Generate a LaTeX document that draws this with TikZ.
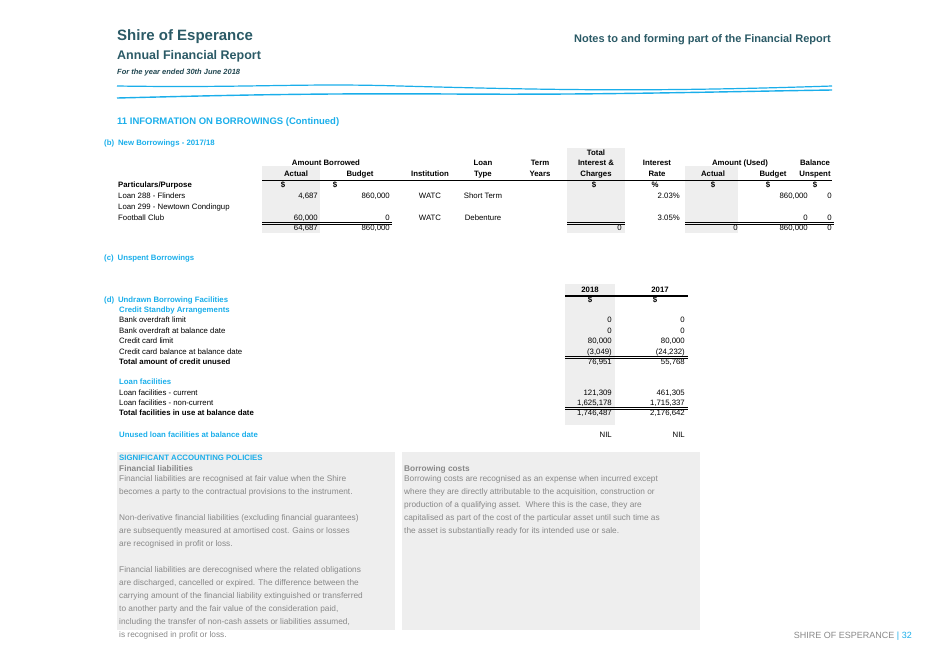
\documentclass[tikz,border=0pt]{standalone}
\usepackage{fontspec}
\setmainfont{Liberation Sans}
\definecolor{hdteal}{HTML}{2B5A66}
\definecolor{cy}{HTML}{1AAEEA}
\definecolor{shadecol}{HTML}{EEEEEE}
\definecolor{gt}{HTML}{888888}
\begin{document}
\begin{tikzpicture}[x=1pt,y=-1pt,
  t/.style={inner sep=0,anchor=mid west,font=\fontsize{7.8}{9}\selectfont},
  h/.style={t,anchor=mid,font=\fontsize{7.8}{9}\selectfont\bfseries},
  n/.style={t,anchor=mid east},
  c/.style={t,anchor=mid},
  b/.style={t,font=\fontsize{7.8}{9}\selectfont\bfseries},
  bl/.style={b,text=cy},
  g/.style={t,text=gt,font=\fontsize{8.3}{13}\selectfont,align=left,anchor=north west}]
\useasboundingbox (0,0) rectangle (929,657);
% header
\node[t,anchor=mid west,text=hdteal,font=\fontsize{15}{16}\selectfont\bfseries] (shire) at (117,38) {Shire of Esperance};
\node[t,text=hdteal,font=\fontsize{12.5}{14}\selectfont\bfseries] (afr) at (117,57) {Annual Financial Report};
\node[t,font=\fontsize{7.5}{9}\selectfont\bfseries\itshape,text=hdteal!80!black] (year) at (117,72) {For the year ended 30th June 2018};
\node[t,anchor=mid east,text=hdteal,font=\fontsize{11}{12}\selectfont\bfseries] (notes) at (831,40) {Notes to and forming part of the Financial Report};
\draw[cy,line width=1.2pt] (117,86) .. controls (250,88) and (300,83) .. (400,86) .. controls (550,90) and (650,92) .. (832,86);
\draw[cy,line width=1.4pt] (117,98) .. controls (200,96) and (300,93) .. (450,94) .. controls (600,95) and (700,92) .. (832,90);
\node[b,text=cy,font=\fontsize{9.5}{11}\selectfont\bfseries] (title) at (117,122) {11 INFORMATION ON BORROWINGS (Continued)};
% (b) table
\fill[shadecol] (262,166) rectangle (320,233);
\fill[shadecol] (567,148) rectangle (625,233);
\fill[shadecol] (685,166) rectangle (738,233);
\node[bl] (bt) at (104,143) {(b)\enspace New Borrowings - 2017/18};
\node[h] at (596,153) {Total};
\node[h] at (326,163) {Amount Borrowed};
\node[h] at (483,163) {Loan};
\node[h] at (540,163) {Term};
\node[h] at (596,163) {Interest \&};
\node[h] at (657,163) {Interest};
\node[h] at (740,163) {Amount (Used)};
\node[h] at (815,163) {Balance};
\node[h] at (296,174) {Actual};
\node[h] at (360,174) {Budget};
\node[h] at (430,174) {Institution};
\node[h] at (483,174) {Type};
\node[h] at (540,174) {Years};
\node[h] at (596,174) {Charges};
\node[h] at (657,174) {Rate};
\node[h] at (713,174) {Actual};
\node[h] at (773,174) {Budget};
\node[h] at (815,174) {Unspent};
\draw[line width=1.3pt] (262,180.5) -- (832,180.5);
\node[b] at (118,185) {Particulars/Purpose};
\foreach \x in {283,335,594,713,768,815} \node[h] at (\x,185) {\$};
\node[h] at (655,185) {\%};
\node[t] at (118,196) {Loan 288 - Flinders};
\node[n] at (318,196) {4,687};
\node[n] at (390,196) {860,000};
\node[c] at (430,196) {WATC};
\node[c] at (483,196) {Short Term};
\node[n] at (680,196) {2.03\%};
\node[n] at (808,196) {860,000};
\node[n] at (832,196) {0};
\node[t] at (118,207) {Loan 299 - Newtown Condingup};
\node[t] at (118,218) {Football Club};
\node[n] at (318,218) {60,000};
\node[n] at (390,218) {0};
\node[c] at (430,218) {WATC};
\node[c] at (483,218) {Debenture};
\node[n] at (680,218) {3.05\%};
\node[n] at (808,218) {0};
\node[n] at (832,218) {0};
\foreach \a/\bb in {262/392,567/625,685/834} {\draw[line width=0.4pt] (\a,222.5) -- (\bb,222.5); \draw[line width=0.4pt] (\a,224.3) -- (\bb,224.3);}
\node[n] at (318,228) {64,687};
\node[n] at (390,228) {860,000};
\node[n] at (622,228) {0};
\node[n] at (738,228) {0};
\node[n] at (808,228) {860,000};
\node[n] at (832,228) {0};
% (c)
\node[bl] (cc) at (104,258) {(c)\enspace Unspent Borrowings};
% (d)
\fill[shadecol] (565,284) rectangle (615,425);
\node[h] at (590,290) {2018};
\node[h] at (660,290) {2017};
\draw[line width=1.3pt] (565,296) -- (688,296);
\node[h] at (590,300) {\$};
\node[h] at (655,300) {\$};
\node[bl] (dd) at (104,300) {(d)\enspace Undrawn Borrowing Facilities};
\node[bl] at (119,310) {Credit Standby Arrangements};
\node[t] at (119,320) {Bank overdraft limit};
\node[t] at (119,331) {Bank overdraft at balance date};
\node[t] at (119,341) {Credit card limit};
\node[t] at (119,352) {Credit card balance at balance date};
\node[b] at (119,362) {Total amount of credit unused};
\node[n] at (612,320) {0}; \node[n] at (685,320) {0};
\node[n] at (612,331) {0}; \node[n] at (685,331) {0};
\node[n] at (612,341) {80,000}; \node[n] at (685,341) {80,000};
\node[n] at (612,352) {(3,049)}; \node[n] at (685,352) {(24,232)};
\foreach \yy in {356.5,358.3,407.5,409.3} \draw[line width=0.4pt] (565,\yy) -- (688,\yy);
\node[n] at (612,362) {76,951}; \node[n] at (685,362) {55,768};
\node[bl] at (119,382) {Loan facilities};
\node[t] at (119,393) {Loan facilities - current};
\node[t] at (119,403) {Loan facilities - non-current};
\node[b] at (119,413) {Total facilities in use at balance date};
\node[n] at (612,393) {121,309}; \node[n] at (685,393) {461,305};
\node[n] at (612,403) {1,625,178}; \node[n] at (685,403) {1,715,337};
\node[n] at (612,413) {1,746,487}; \node[n] at (685,413) {2,176,642};
\node[bl] at (119,435) {Unused loan facilities at balance date};
\node[n] at (612,435) {NIL}; \node[n] at (685,435) {NIL};
% policies
\fill[shadecol] (117,452) rectangle (395,630);
\fill[shadecol] (402,452) rectangle (700,630);
\node[bl] (sap) at (119,458) {SIGNIFICANT ACCOUNTING POLICIES};
\node[b,text=gt,font=\fontsize{8.3}{10}\selectfont\bfseries] (fl) at (119,469) {Financial liabilities};
\node[g] (flt) at (119,475) {Financial liabilities are recognised at fair value when the Shire\\
becomes a party to the contractual provisions to the instrument.\\[13pt]
Non-derivative financial liabilities (excluding financial guarantees)\\
are subsequently measured at amortised cost. Gains or losses\\
are recognised in profit or loss.\\[13pt]
Financial liabilities are derecognised where the related obligations\\
are discharged, cancelled or expired. The difference between the\\
carrying amount of the financial liability extinguished or transferred\\
to another party and the fair value of the consideration paid,\\
including the transfer of non-cash assets or liabilities assumed,\\
is recognised in profit or loss.};
\node[b,text=gt,font=\fontsize{8.3}{10}\selectfont\bfseries] (bc) at (404,469) {Borrowing costs};
\node[g] (bct) at (404,475) {Borrowing costs are recognised as an expense when incurred except\\
where they are directly attributable to the acquisition, construction or\\
production of a qualifying asset.\ \ Where this is the case, they are\\
capitalised as part of the cost of the particular asset until such time as\\
the asset is substantially ready for its intended use or sale.};
\node[t,anchor=mid east,font=\fontsize{9}{10}\selectfont,text=gt] (foot) at (912,636) {SHIRE OF ESPERANCE \textcolor{cy}{| 32}};
\end{tikzpicture}
\end{document}
